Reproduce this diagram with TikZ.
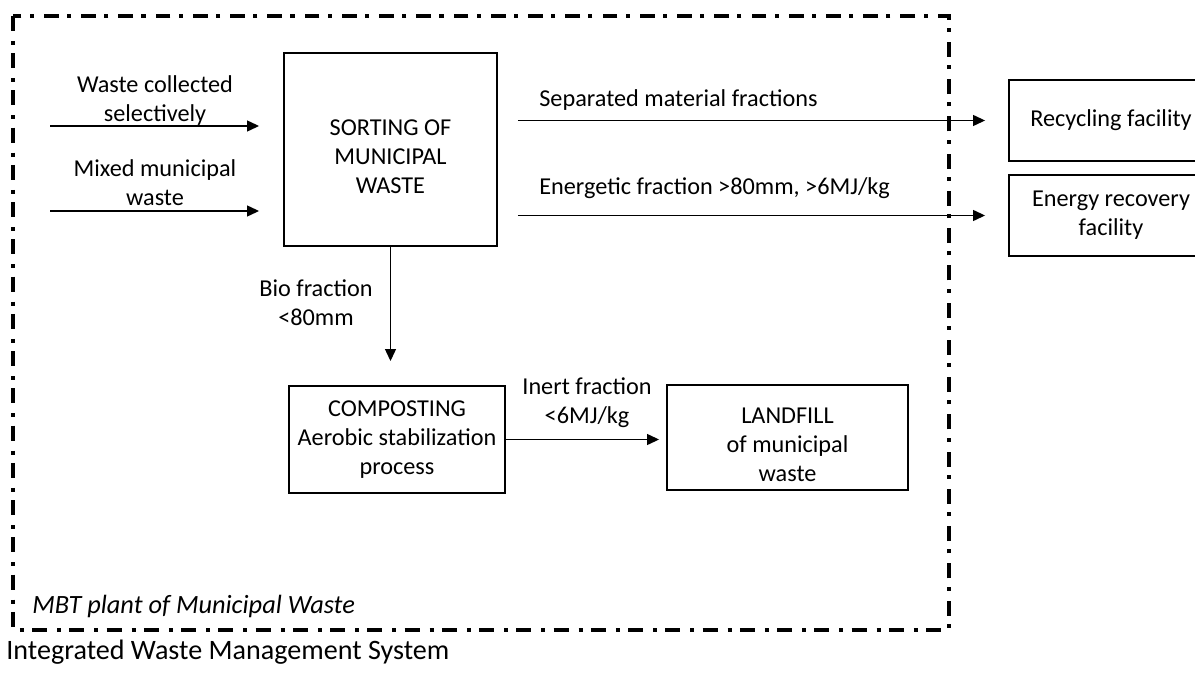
\documentclass[tikz,border=0pt]{standalone}
\usepackage{fontspec}
\setmainfont{Carlito}
\usetikzlibrary{arrows.meta}

\begin{document}
\begin{tikzpicture}[x = 0.02cm, y = -0.02cm,
    font = \fontsize{13.8}{16.5}\selectfont,
    box/.style = {draw, line width = 1.1pt, align = center, inner sep = 0pt},
    flow/.style = {line width = 0.8pt, -{Triangle[length = 6.8pt, width = 6.2pt]}},
    lbl/.style = {align = center, inner sep = 0pt},
    border/.style = {line width = 2.2pt, dash pattern = on 8.5pt off 5.7pt on 2.3pt off 4.7pt}]

\clip (0,0) rectangle (1195,675);

%plant boundary
        \draw[border] (13,16) rectangle (949,630);
        \node[anchor = base west, inner sep = 0pt, font = \fontsize{15}{18}\selectfont\itshape] (plant) at (32,613) {MBT plant of Municipal Waste};
        \node[anchor = base west, inner sep = 0pt, font = \fontsize{16}{19}\selectfont] (system) at (6,659) {Integrated Waste Management System};

%process boxes
        \node[box, minimum width = 4.26cm, minimum height = 3.86cm] (sort) at (390.5,149.5) {\rule{0pt}{17pt}SORTING OF\\MUNICIPAL\\WASTE};
        \node[box, minimum width = 4.32cm, minimum height = 2.14cm] (compost) at (397,439.5) {COMPOSTING\\Aerobic stabilization\\process};
        \node[box, minimum width = 4.82cm, minimum height = 2.1cm] (landfill) at (787.5,437.5) {\rule{0pt}{17pt}LANDFILL\\of municipal\\waste};
        \node[box, minimum width = 4.08cm, minimum height = 1.62cm] (recycle) at (1111,120.5) {Recycling facility};
        \node[box, minimum width = 4.08cm, minimum height = 1.62cm] (energy) at (1111,215.5) {Energy recovery\\facility};

%inputs
        \coordinate (in1) at (50,126);
        \coordinate (in2) at (50,211);
        \draw[flow, shorten > = 0.48cm] (in1) -- (sort.west |- in1);
        \draw[flow, shorten > = 0.48cm] (in2) -- (sort.west |- in2);
        \node[lbl] (selective) at (155,100.5) {Waste collected\\selectively};
        \node[lbl] (mixed) at (155,183) {Mixed municipal\\waste};

%outputs
        \draw[flow, shorten < = 0.4cm, shorten > = 0.46cm] (sort.east |- recycle) -- (recycle.west);
        \draw[flow, shorten < = 0.4cm, shorten > = 0.46cm] (sort.east |- energy) -- (energy.west);
        \node[lbl, anchor = base west] (separated) at (539,107) {Separated material fractions};
        \node[lbl, anchor = base west] (energetic) at (539,195) {Energetic fraction >80mm, >6MJ/kg};

        \draw[flow, shorten > = 0.48cm] (sort.south) -- (sort.south |- compost.north);
        \node[lbl] (bio) at (316,303) {Bio fraction\\<80mm};

        \draw[flow, shorten > = 0.14cm] (compost.east) -- (compost.east -| landfill.west);
        \node[lbl] (inert) at (587,402.5) {Inert fraction\\<6MJ/kg};
\end{tikzpicture}
\end{document}
